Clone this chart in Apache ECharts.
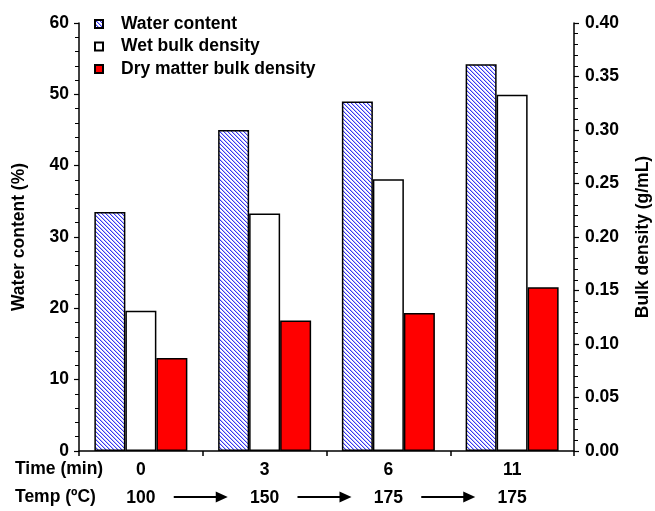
<!DOCTYPE html>
<html>
<head>
<meta charset="utf-8">
<script src="https://cdn.jsdelivr.net/npm/echarts@6/dist/echarts.min.js"></script>
<style>
html,body{margin:0;padding:0;background:#fff;}
#chart{width:655px;height:511px;}
</style>
</head>
<body>
<div id="chart"></div>
<script>
// ---- data ----
var timeLabels = ['0', '3', '6', '11'];
var tempLabels = ['100', '150', '175', '175'];
var waterContent = [33.5, 45.0, 49.0, 54.2];        // %
var wetBulkDensity = [0.131, 0.222, 0.254, 0.333];  // g/mL
var dryBulkDensity = [0.087, 0.122, 0.129, 0.153];  // g/mL
var seriesNames = ['Water content', 'Wet bulk density', 'Dry matter bulk density'];

// ---- hatch pattern ----
function makeHatch() {
  var n = 4;
  var c = document.createElement('canvas');
  c.width = n; c.height = n;
  var ctx = c.getContext('2d');
  ctx.fillStyle = '#ffffff';
  ctx.fillRect(0, 0, n, n);
  for (var x = 0; x < n; x++) {
    for (var y = 0; y < n; y++) {
      var d = ((x - y) % n + n) % n;
      if (d === 0) { ctx.fillStyle = '#3838f2'; ctx.fillRect(x, y, 1, 1); }
      else if (d === 1) { ctx.fillStyle = '#bcbcfb'; ctx.fillRect(x, y, 1, 1); }
    }
  }
  return c;
}
var hatch = { image: makeHatch(), repeat: 'repeat' };

var FONT = 'Liberation Sans, Arial, sans-serif';
var FS = 17.5;
var chart = echarts.init(document.getElementById('chart'), null, { renderer: 'canvas' });

var labelsTwoLine = timeLabels.map(function (t, i) { return t + '\n' + tempLabels[i]; });

var option = {
  animation: false,
  backgroundColor: '#ffffff',
  grid: { left: 79, right: 81, top: 23, bottom: 60, containLabel: false, outerBoundsMode: 'none' },
  legend: {
    orient: 'vertical',
    left: 89,
    top: 10,
    itemWidth: 8,
    itemHeight: 8,
    itemGap: 4.5,
    icon: 'rect',
    data: seriesNames,
    textStyle: { fontFamily: FONT, fontWeight: 'bold', fontSize: FS, color: '#000', padding: [0, 0, 0, 13] }
  },
  xAxis: {
    type: 'category',
    data: labelsTwoLine,
    axisLine: { lineStyle: { color: '#000', width: 1.5 } },
    axisTick: { show: true, length: 5, inside: false, lineStyle: { color: '#000', width: 1.5 } },
    axisLabel: {
      margin: 5, color: '#000', fontFamily: FONT, fontWeight: 'bold', fontSize: FS, lineHeight: 28
    }
  },
  yAxis: [
    {
      type: 'value', min: 0, max: 60, interval: 10, position: 'left',
      name: 'Water content (%)', nameLocation: 'middle', nameGap: 51, nameRotate: 90,
      nameTextStyle: { fontFamily: FONT, fontWeight: 'bold', fontSize: FS, color: '#000' },
      axisLine: { show: true, lineStyle: { color: '#000', width: 1.5 } },
      axisTick: { show: true, length: 5, lineStyle: { color: '#000', width: 1.2 } },
      minorTick: { show: true, splitNumber: 5, length: 4, lineStyle: { color: '#000', width: 1 } },
      splitLine: { show: false },
      axisLabel: { margin: 10, color: '#000', fontFamily: FONT, fontWeight: 'bold', fontSize: FS }
    },
    {
      type: 'value', min: 0, max: 0.4, interval: 0.05, position: 'right',
      name: 'Bulk density (g/mL)', nameLocation: 'middle', nameGap: 60, nameRotate: 90,
      nameTextStyle: { fontFamily: FONT, fontWeight: 'bold', fontSize: FS, color: '#000' },
      axisLine: { show: true, lineStyle: { color: '#000', width: 1.5 } },
      axisTick: { show: true, length: 5, lineStyle: { color: '#000', width: 1.2 } },
      minorTick: { show: true, splitNumber: 5, length: 4, lineStyle: { color: '#000', width: 1 } },
      splitLine: { show: false },
      axisLabel: {
        margin: 11, color: '#000', fontFamily: FONT, fontWeight: 'bold', fontSize: FS,
        formatter: function (v) { return v.toFixed(2); }
      }
    }
  ],
  series: [
    {
      name: seriesNames[0], type: 'bar', yAxisIndex: 0, data: waterContent,
      barWidth: 31, barGap: '0%',
      itemStyle: { color: hatch, borderColor: '#000', borderWidth: 1.5 }
    },
    {
      name: seriesNames[1], type: 'bar', yAxisIndex: 1, data: wetBulkDensity,
      barWidth: 31, barGap: '0%',
      itemStyle: { color: '#ffffff', borderColor: '#000', borderWidth: 1.5 }
    },
    {
      name: seriesNames[2], type: 'bar', yAxisIndex: 1, data: dryBulkDensity,
      barWidth: 31, barGap: '0%',
      itemStyle: { color: '#ff0000', borderColor: '#000', borderWidth: 1.5 }
    }
  ]
};
chart.setOption(option);

// ---- side labels and arrows between categories ----
var graphics = [
  { type: 'text', left: 15, top: 460, style: { text: 'Time (min)', fontFamily: FONT, fontWeight: 'bold', fontSize: FS, fill: '#000' } },
  { type: 'text', left: 15, top: 488, style: { text: 'Temp (ºC)', fontFamily: FONT, fontWeight: 'bold', fontSize: FS, fill: '#000' } }
];
var arrowY = 497;
for (var i = 0; i < timeLabels.length - 1; i++) {
  var a = chart.convertToPixel({ xAxisIndex: 0 }, labelsTwoLine[i]);
  var b = chart.convertToPixel({ xAxisIndex: 0 }, labelsTwoLine[i + 1]);
  var mid = (a + b) / 2;
  var x0 = mid - 29, x1 = mid + 25;
  graphics.push({
    type: 'line', shape: { x1: x0, y1: arrowY, x2: x1 - 6, y2: arrowY },
    style: { stroke: '#000', lineWidth: 2 }
  });
  graphics.push({
    type: 'polygon', shape: { points: [[x1, arrowY], [x1 - 12, arrowY - 5.5], [x1 - 12, arrowY + 5.5]] },
    style: { fill: '#000' }
  });
}
chart.setOption({ graphic: graphics });
</script>
</body>
</html>
